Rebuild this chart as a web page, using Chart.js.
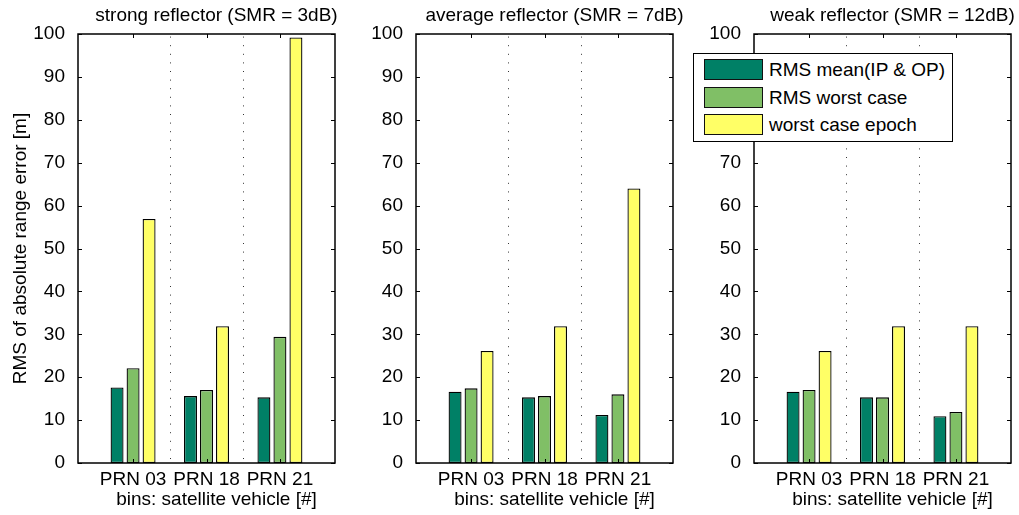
<!DOCTYPE html>
<html>
<head>
<meta charset="utf-8">
<script src="https://cdn.jsdelivr.net/npm/chart.js@4.4.1/dist/chart.umd.min.js"></script>
<style>
  body { margin: 0; background: #fff; }
  #wrap { position: relative; width: 1019px; height: 515px; overflow: hidden; font-family: 'Liberation Sans', Arial, sans-serif; }
  #wrap canvas { position: absolute; top: 0; }
  #legend { position: absolute; left: 693px; top: 53px; width: 260px; height: 89px; border: 1px solid #000; background: #fff; box-sizing: border-box; }
  #legend .item { position: absolute; left: 10px; height: 21px; font-size: 19px; line-height: 21px; white-space: nowrap; color: #000; }
  #legend .swatch { display: inline-block; width: 59px; height: 21px; box-sizing: border-box; border: 1px solid #111; vertical-align: top; margin-right: 6px; }
</style>
</head>
<body>
<div id="wrap">
  <canvas id="c1" width="340" height="515" style="left:0px"></canvas>
  <canvas id="c2" width="350" height="515" style="left:340px"></canvas>
  <canvas id="c3" width="339" height="515" style="left:680px"></canvas>
  <div id="legend"></div>
</div>
<script>
// satellites on the x axis
const prnLabels = ['PRN 03', 'PRN 18', 'PRN 21'];
const prnPositions = [1, 2, 3];

const seriesNames = ['RMS mean(IP & OP)', 'RMS worst case', 'worst case epoch'];
const seriesColors = ['rgb(0,128,102)', 'rgb(128,191,102)', 'rgb(255,255,102)'];

const panelTitles = [
  'strong reflector (SMR = 3dB)',
  'average reflector (SMR = 7dB)',
  'weak reflector (SMR = 12dB)'
];
const yLabel = 'RMS of absolute range error [m]';
const xLabel = 'bins: satellite vehicle [#]';
const yTicks = [0, 10, 20, 30, 40, 50, 60, 70, 80, 90, 100];

// RMS errors in metres, one value per satellite
const strongMean = [17.6, 15.6, 15.3];
const strongWorst = [22.1, 17.0, 29.4];
const strongEpoch = [56.9, 31.9, 99.2];

const averageMean = [16.6, 15.3, 11.2];
const averageWorst = [17.4, 15.6, 16.0];
const averageEpoch = [26.1, 31.9, 64.0];

const weakMean = [16.6, 15.3, 10.9];
const weakWorst = [17.0, 15.3, 11.9];
const weakEpoch = [26.1, 31.9, 31.9];

const FONT = "'Liberation Sans', Arial, sans-serif";
Chart.defaults.font.family = FONT;
Chart.defaults.font.size = 19;
Chart.defaults.color = '#000';

const panels = [
  { id: 'c1', width: 340, plotLeft: 78, plotRight: 335, title: panelTitles[0], values: [strongMean, strongWorst, strongEpoch], yTitle: true },
  { id: 'c2', width: 350, plotLeft: 76, plotRight: 333, title: panelTitles[1], values: [averageMean, averageWorst, averageEpoch], yTitle: false },
  { id: 'c3', width: 339, plotLeft: 74, plotRight: 331, title: panelTitles[2], values: [weakMean, weakWorst, weakEpoch], yTitle: false }
];

// box frame, inward ticks, dotted bin separators, title and x label
const axesDecor = {
  id: 'axesDecor',
  beforeDatasetsDraw(chart) {
    const { ctx, chartArea: a, scales: { x } } = chart;
    ctx.save();
    ctx.strokeStyle = '#333';
    ctx.lineWidth = 1;
    ctx.setLineDash([1, 7.6]);
    [1.5, 2.5].forEach(v => {
      const px = Math.round(x.getPixelForValue(v)) + 0.5;
      ctx.beginPath();
      ctx.moveTo(px, a.bottom - 4);
      ctx.lineTo(px, a.top);
      ctx.stroke();
    });
    ctx.restore();
  },
  afterDatasetsDraw(chart, args, opts) {
    const { ctx, chartArea: a, scales: { x, y } } = chart;
    const seg = (x1, y1, x2, y2) => { ctx.beginPath(); ctx.moveTo(x1, y1); ctx.lineTo(x2, y2); ctx.stroke(); };
    ctx.save();
    ctx.strokeStyle = '#000';
    ctx.lineWidth = 1;
    yTicks.forEach(v => {
      const py = Math.round(y.getPixelForValue(v)) + 0.5;
      seg(a.left, py, a.left + 4, py);
      seg(a.right - 4, py, a.right, py);
    });
    prnPositions.forEach(v => {
      const px = Math.round(x.getPixelForValue(v)) + 0.5;
      seg(px, a.top, px, a.top + 4);
      seg(px, a.bottom, px, a.bottom - 4);
    });
    ctx.lineWidth = 1.5;
    ctx.strokeRect(a.left, a.top, a.right - a.left, a.bottom - a.top);

    ctx.fillStyle = '#000';
    ctx.font = '19px ' + FONT;
    ctx.textAlign = 'center';
    ctx.textBaseline = 'middle';
    const cx = (a.left + a.right) / 2 + 10;
    ctx.fillText(opts.title, cx, 16);
    ctx.fillText(xLabel, cx, 500);
    ctx.restore();
  }
};

panels.forEach(p => {
  new Chart(document.getElementById(p.id), {
    type: 'bar',
    data: {
      datasets: p.values.map((vals, i) => ({
        label: seriesNames[i],
        data: prnPositions.map((pos, j) => ({ x: pos, y: vals[j] })),
        backgroundColor: seriesColors[i],
        borderColor: '#000',
        borderWidth: 1.3,
        borderSkipped: false,
        categoryPercentage: 0.654,
        barPercentage: 0.81
      }))
    },
    plugins: [axesDecor],
    options: {
      responsive: false,
      animation: false,
      devicePixelRatio: 1,
      layout: { padding: { top: 34, right: p.width - p.plotRight, bottom: 0, left: 0 } },
      plugins: {
        legend: { display: false },
        tooltip: { enabled: false },
        axesDecor: { title: p.title }
      },
      scales: {
        x: {
          type: 'linear',
          min: 0.25,
          max: 3.75,
          bounds: 'data',
          offset: false,
          grid: { display: false, offset: false },
          border: { display: false },
          afterBuildTicks: s => { s.ticks = prnPositions.map(v => ({ value: v })); },
          afterFit: s => { s.height = 52; },
          ticks: {
            autoSkip: false,
            maxRotation: 0,
            padding: -3,
            callback: (v, i) => prnLabels[i]
          }
        },
        y: {
          min: 0,
          max: 100,
          grid: { display: false },
          border: { display: false },
          afterFit: s => { s.width = p.plotLeft; },
          ticks: { stepSize: 10, padding: 5 },
          title: { display: p.yTitle, text: yLabel, padding: { top: 9, bottom: 0 } }
        }
      }
    }
  });
});

// legend sits over the right-hand panel
const legend = document.getElementById('legend');
const rowTops = [5, 32.5, 60];
seriesNames.forEach((name, i) => {
  const item = document.createElement('div');
  item.className = 'item';
  item.style.top = rowTops[i] + 'px';
  const sw = document.createElement('span');
  sw.className = 'swatch';
  sw.style.background = seriesColors[i];
  item.appendChild(sw);
  item.appendChild(document.createTextNode(name));
  legend.appendChild(item);
});
</script>
</body>
</html>
